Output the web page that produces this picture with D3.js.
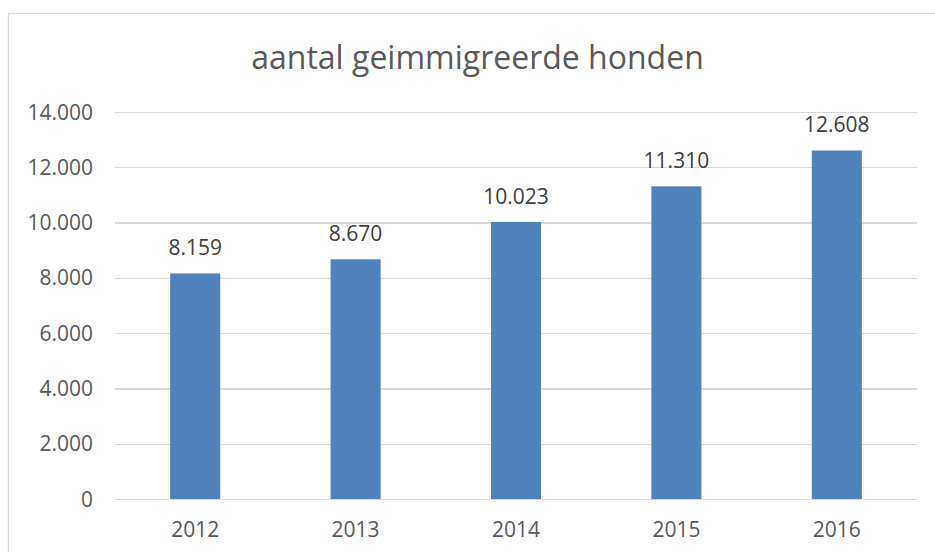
<!DOCTYPE html>
<html>
<head>
<meta charset="utf-8">
<style>
  body { margin: 0; background: #fff; }
  text { font-family: "Open Sans", sans-serif; }
  .grid line { stroke: #d9d9d9; stroke-width: 1.3; shape-rendering: crispEdges; }
  .grid path { stroke-width: 0; }
</style>
</head>
<body>
<svg width="935" height="552"></svg>
<script src="https://d3js.org/d3.v7.min.js"></script>
<script>

var years = ["2012", "2013", "2014", "2015", "2016"];
var dogs = [8159, 8670, 10023, 11310, 12608];
var yTicks = [0, 2000, 4000, 6000, 8000, 10000, 12000, 14000];
var title = "aantal geimmigreerde honden";

// dutch style thousands: 12.608
var nl = d3.formatLocale({decimal: ",", thousands: ".", grouping: [3], currency: ["€", ""]});
var fmt = nl.format(",d");

var svg = d3.select("svg");

// chart area border (runs off the right and bottom edge)
svg.append("rect")
    .attr("x", 8.5).attr("y", 13.5)
    .attr("width", 1000).attr("height", 1000)
    .attr("fill", "none")
    .attr("stroke", "#d9d9d9")
    .attr("stroke-width", 1.3);

var plotL = 115, plotR = 917, plotT = 112, plotB = 499;

var x = d3.scaleBand().domain(years).range([plotL, plotR])
    .paddingInner(0.688).paddingOuter(0.344);
var y = d3.scaleLinear().domain([0, 14000]).range([plotB, plotT]);

// horizontal gridlines
svg.append("g")
    .attr("class", "grid")
    .attr("transform", "translate(" + plotL + ",0)")
    .call(d3.axisLeft(y).tickValues(yTicks).tickSize(-(plotR - plotL)).tickFormat(""));

// y tick labels
svg.append("g").selectAll("text")
    .data(yTicks)
  .enter().append("text")
    .attr("x", 93)
    .attr("y", function(d) { return y(d) + 7.5; })
    .attr("text-anchor", "end")
    .attr("fill", "#595959")
    .style("font-size", "21px")
    .text(function(d) { return fmt(d); });

// bars
svg.append("g").selectAll("rect")
    .data(dogs)
  .enter().append("rect")
    .attr("x", function(d, i) { return x(years[i]); })
    .attr("y", function(d) { return y(d); })
    .attr("width", x.bandwidth())
    .attr("height", function(d) { return plotB - y(d); })
    .attr("fill", "#4f81bd");

// value labels
svg.append("g").selectAll("text")
    .data(dogs)
  .enter().append("text")
    .attr("x", function(d, i) { return x(years[i]) + x.bandwidth() / 2; })
    .attr("y", function(d) { return y(d) - 18; })
    .attr("text-anchor", "middle")
    .attr("fill", "#404040")
    .style("font-size", "21px")
    .text(function(d) { return fmt(d); });

// category labels
svg.append("g").selectAll("text")
    .data(years)
  .enter().append("text")
    .attr("x", function(d) { return x(d) + x.bandwidth() / 2; })
    .attr("y", 537)
    .attr("text-anchor", "middle")
    .attr("fill", "#595959")
    .style("font-size", "21px")
    .text(function(d) { return d; });

// title
svg.append("text")
    .attr("x", 477.5)
    .attr("y", 69)
    .attr("text-anchor", "middle")
    .attr("fill", "#595959")
    .style("font-size", "32px")
    .text(title);

</script>
</body>
</html>
